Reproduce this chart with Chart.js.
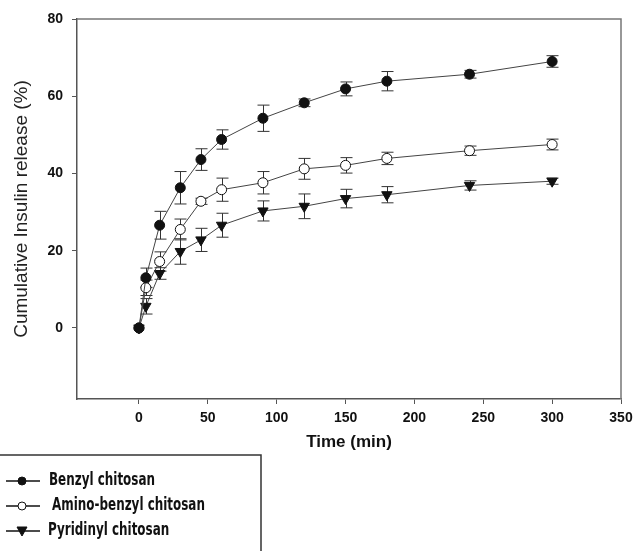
<!DOCTYPE html>
<html>
<head>
<meta charset="utf-8">
<title>Cumulative insulin release</title>
<script src="https://cdn.jsdelivr.net/npm/chart.js@4.4.1/dist/chart.umd.min.js"></script>
<style>
  html, body { margin: 0; padding: 0; background: #fff; }
  #wrap { position: relative; width: 633px; height: 551px; }
</style>
</head>
<body>
<div id="wrap"><canvas id="releaseChart" width="633" height="551"></canvas></div>
<script>
// sampling times (min)
const timePoints = [0, 5, 15, 30, 45, 60, 90, 120, 150, 180, 240, 300];

// cumulative release (%) and error (±)
const benzyl = [0, 13.0, 26.6, 36.3, 43.6, 48.8, 54.3, 58.3, 61.9, 63.9, 65.7, 69.0];
const benzylErr = [0, 2.5, 3.6, 4.2, 2.8, 2.5, 3.4, 1.0, 1.8, 2.5, 1.0, 1.5];

const aminoBenzyl = [0, 10.4, 17.2, 25.5, 32.8, 35.8, 37.6, 41.2, 42.1, 43.9, 45.9, 47.5];
const aminoBenzylErr = [0, 2.0, 2.5, 2.7, 0.8, 3.0, 2.9, 2.7, 2.0, 1.6, 1.2, 1.4];

const pyridinyl = [0, 5.6, 14.1, 19.8, 22.8, 26.6, 30.3, 31.5, 33.5, 34.5, 36.9, 38.0];
const pyridinylErr = [0, 2.0, 1.5, 3.3, 3.0, 3.1, 2.6, 3.2, 2.4, 2.1, 1.2, 0.8];

const xTicks = [0, 50, 100, 150, 200, 250, 300, 350];
const yTicks = [0, 20, 40, 60, 80];

const seriesNames = ['Benzyl chitosan', 'Amino-benzyl chitosan', 'Pyridinyl chitosan'];

const axisColor = '#555';
const markColor = '#111';

function toPoints(values) {
  return timePoints.map((t, i) => ({ x: t, y: values[i] }));
}

const datasets = [
  {
    label: seriesNames[0], data: toPoints(benzyl), errors: benzylErr,
    borderColor: '#444', borderWidth: 1,
    pointStyle: 'circle', pointRadius: 5, pointBackgroundColor: markColor,
    pointBorderColor: markColor, pointBorderWidth: 1
  },
  {
    label: seriesNames[1], data: toPoints(aminoBenzyl), errors: aminoBenzylErr,
    borderColor: '#444', borderWidth: 1,
    pointStyle: 'circle', pointRadius: 5, pointBackgroundColor: '#fff',
    pointBorderColor: markColor, pointBorderWidth: 1
  },
  {
    label: seriesNames[2], data: toPoints(pyridinyl), errors: pyridinylErr,
    borderColor: '#444', borderWidth: 1,
    pointStyle: 'triangle', rotation: 180, pointRadius: 6, pointBackgroundColor: markColor,
    pointBorderColor: markColor, pointBorderWidth: 1
  }
];

// vertical error bars with caps, drawn under the markers
const errorBars = {
  id: 'errorBars',
  beforeDatasetsDraw(chart) {
    const { ctx, scales: { x, y } } = chart;
    ctx.save();
    ctx.strokeStyle = '#333';
    ctx.lineWidth = 1;
    chart.data.datasets.forEach((ds) => {
      ds.data.forEach((p, i) => {
        const e = ds.errors[i];
        if (!e) return;
        const px = Math.round(x.getPixelForValue(p.x)) + 0.5;
        const top = y.getPixelForValue(p.y + e);
        const bot = y.getPixelForValue(p.y - e);
        ctx.beginPath();
        ctx.moveTo(px, top); ctx.lineTo(px, bot);
        ctx.moveTo(px - 6, top); ctx.lineTo(px + 6, top);
        ctx.moveTo(px - 6, bot); ctx.lineTo(px + 6, bot);
        ctx.stroke();
      });
    });
    ctx.restore();
  }
};

// top/right frame plus the boxed legend in the lower left corner
const frameAndLegend = {
  id: 'frameAndLegend',
  afterDraw(chart) {
    const { ctx, chartArea: a } = chart;
    ctx.save();
    ctx.strokeStyle = '#777';
    ctx.lineWidth = 1.5;
    ctx.beginPath();
    ctx.moveTo(a.left, a.top); ctx.lineTo(a.right, a.top); ctx.lineTo(a.right, a.bottom);
    ctx.stroke();

    // legend box
    ctx.strokeStyle = '#333';
    ctx.lineWidth = 1.5;
    ctx.beginPath();
    ctx.moveTo(0, 455); ctx.lineTo(261, 455); ctx.lineTo(261, 551);
    ctx.stroke();

    const rows = [481, 506, 531];
    const textX = [49, 52, 48];
    ctx.font = 'bold 17px "Liberation Sans Narrow", "DejaVu Sans Condensed", Arial, sans-serif';
    // squeeze the text to the narrow face used in the original
    const squeeze = 106 / ctx.measureText(seriesNames[0]).width;
    ctx.textBaseline = 'middle';
    ctx.textAlign = 'left';
    chart.data.datasets.forEach((ds, i) => {
      const yy = rows[i];
      ctx.strokeStyle = '#111';
      ctx.lineWidth = 1.5;
      ctx.beginPath();
      ctx.moveTo(6, yy); ctx.lineTo(40, yy);
      ctx.stroke();
      ctx.fillStyle = ds.pointBackgroundColor;
      ctx.strokeStyle = '#111';
      ctx.lineWidth = 1;
      ctx.beginPath();
      if (ds.pointStyle === 'triangle') {
        ctx.moveTo(17, yy - 4); ctx.lineTo(27, yy - 4); ctx.lineTo(22, yy + 5);
        ctx.closePath();
      } else {
        ctx.arc(22, yy, 4, 0, Math.PI * 2);
      }
      ctx.fill();
      ctx.stroke();
      ctx.fillStyle = '#111';
      ctx.save();
      ctx.translate(textX[i], yy);
      ctx.scale(squeeze, 1);
      ctx.fillText(ds.label, 0, 0);
      ctx.restore();
    });
    ctx.restore();
  }
};

const tickFont = { family: 'Arial, "Liberation Sans", sans-serif', size: 14, weight: 'bold' };

new Chart(document.getElementById('releaseChart'), {
  type: 'line',
  data: { datasets },
  plugins: [errorBars, frameAndLegend],
  options: {
    responsive: false,
    animation: false,
    layout: { padding: { left: 0, top: 19, right: 12, bottom: 0 } },
    plugins: { legend: { display: false }, tooltip: { enabled: false } },
    scales: {
      x: {
        type: 'linear',
        min: -45,
        max: 350,
        afterBuildTicks(scale) { scale.ticks = xTicks.map((v) => ({ value: v })); },
        afterFit(scale) {
          scale.height = 152;
          // let the last label run to the canvas edge like the original
          scale.paddingRight = 0;
          scale.paddingLeft = 0;
        },
        border: { color: axisColor, width: 1.5 },
        grid: { drawOnChartArea: false, drawTicks: true, tickLength: 5, color: axisColor },
        ticks: { color: '#111', font: tickFont, padding: 6, maxRotation: 0 },
        title: {
          display: true, text: 'Time (min)', color: '#111',
          font: { family: 'Arial, "Liberation Sans", sans-serif', size: 17, weight: 'bold' },
          padding: { top: 0, bottom: 98 }
        }
      },
      y: {
        min: -18.4,
        max: 80,
        afterBuildTicks(scale) { scale.ticks = yTicks.map((v) => ({ value: v })); },
        afterFit(scale) { scale.width = 77; },
        border: { color: axisColor, width: 1.5 },
        grid: { drawOnChartArea: false, drawTicks: true, tickLength: 5, color: axisColor },
        ticks: { color: '#111', font: tickFont, padding: 9 },
        title: {
          display: true, text: 'Cumulative Insulin release (%)', color: '#222',
          font: { family: 'Arial, "Liberation Sans", sans-serif', size: 19 },
          padding: { top: 10, bottom: 0 }
        }
      }
    }
  }
});
</script>
</body>
</html>
